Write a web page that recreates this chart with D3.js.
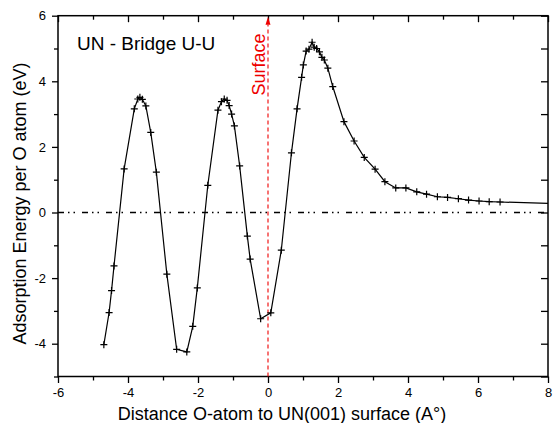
<!DOCTYPE html>
<html>
<head>
<meta charset="utf-8">
<script src="https://cdn.jsdelivr.net/npm/d3@7"></script>
<style>
  html, body { margin: 0; padding: 0; background: #fff; }
  svg { display: block; font-family: "Liberation Sans", Arial, sans-serif; }
</style>
</head>
<body>
<svg id="chart" width="553" height="423"></svg>
<script>
// Adsorption energy profile of an O atom crossing the UN(001) surface (bridge U-U site)
const distance = [
  -4.69, -4.54, -4.47, -4.40, -4.11, -3.82, -3.72, -3.66, -3.59, -3.49,
  -3.35, -3.19, -2.89, -2.61, -2.32, -2.15, -2.02, -1.72, -1.43, -1.33,
  -1.25, -1.17, -1.11, -1.04, -0.96, -0.81, -0.59, -0.51, -0.21, 0.08,
  0.38, 0.67, 0.83, 0.96, 1.01, 1.09, 1.17, 1.26, 1.32, 1.39,
  1.47, 1.54, 1.61, 1.71, 1.85, 2.17, 2.46, 2.75, 3.06, 3.34,
  3.65, 3.94, 4.25, 4.53, 4.84, 5.13, 5.44, 5.73, 6.03, 6.32, 6.63
];
const energy = [
  -4.03, -3.05, -2.38, -1.63, 1.33, 3.16, 3.46, 3.51, 3.45, 3.25,
  2.44, 1.23, -1.88, -4.17, -4.25, -3.47, -2.30, 0.83, 3.12, 3.38,
  3.46, 3.42, 3.26, 3.00, 2.64, 1.42, -0.72, -1.42, -3.24, -3.06,
  -1.15, 1.82, 3.16, 4.12, 4.50, 4.92, 4.98, 5.19, 5.04, 5.00,
  4.90, 4.73, 4.65, 4.40, 3.84, 2.77, 2.18, 1.68, 1.32, 0.94,
  0.75, 0.75, 0.63, 0.56, 0.48, 0.46, 0.42, 0.38, 0.35, 0.33, 0.32
];
// unmarked continuation of the curve to the right edge
const tailDistance = [6.63, 8.0];
const tailEnergy = [0.32, 0.28];

const xMajorTicks = [-6, -4, -2, 0, 2, 4, 6, 8];
const xMinorTicks = [-5, -3, -1, 1, 3, 5, 7];
const yMajorTicks = [-4, -2, 0, 2, 4, 6];
const yMinorTicks = [-5, -3, -1, 1, 3, 5];

const titleText = "UN - Bridge U-U";
const surfaceText = "Surface";
const xLabel = "Distance O-atom to UN(001) surface (A°)";
const yLabel = "Adsorption Energy per O atom (eV)";

const svg = d3.select("#chart");
const plotLeft = 58, plotRight = 548, plotTop = 15.7, plotBottom = 376.5;

const x = d3.scaleLinear().domain([-6, 8]).range([plotLeft, plotRight]);
const y = d3.scaleLinear().domain([-5, 6]).range([plotBottom, plotTop]);

const fmt = d => String(d);

function drawAxis(gen, transform, size, values, labels) {
  const g = svg.append("g").attr("transform", transform)
    .call(gen.tickValues(values).tickSizeInner(size).tickSizeOuter(0)
      .tickPadding(labels ? 4 : 0).tickFormat(labels ? fmt : () => ""));
  g.select(".domain").remove();
  g.selectAll(".tick line").attr("stroke", "#000").attr("stroke-width", 1.3);
  g.selectAll(".tick text").attr("fill", "#000").style("font-size", "13px")
    .style("font-family", "'Liberation Sans', Arial, sans-serif");
  return g;
}

// bottom axis: outward ticks with labels
drawAxis(d3.axisBottom(x), `translate(0,${plotBottom})`, 6.5, xMajorTicks, true)
  .selectAll(".tick text").attr("dy", "0.71em").attr("y", 11);
drawAxis(d3.axisBottom(x), `translate(0,${plotBottom})`, 4, xMinorTicks, false);
// top axis: inward ticks
drawAxis(d3.axisTop(x), `translate(0,${plotTop})`, -6.5, xMajorTicks, false);
drawAxis(d3.axisTop(x), `translate(0,${plotTop})`, -4, xMinorTicks, false);
// left axis: outward ticks with labels
drawAxis(d3.axisLeft(y), `translate(${plotLeft},0)`, 6, yMajorTicks, true)
  .selectAll(".tick text").attr("x", -12);
drawAxis(d3.axisLeft(y), `translate(${plotLeft},0)`, 4, yMinorTicks, false);
// right axis: inward ticks
drawAxis(d3.axisRight(y), `translate(${plotRight},0)`, -7, yMajorTicks, false);
drawAxis(d3.axisRight(y), `translate(${plotRight},0)`, -7, yMinorTicks, false);

// frame
svg.append("rect")
  .attr("x", plotLeft).attr("y", plotTop)
  .attr("width", plotRight - plotLeft).attr("height", plotBottom - plotTop)
  .attr("fill", "none").attr("stroke", "#000").attr("stroke-width", 1.5);

// zero-energy reference line (dash-dot-dot)
svg.append("line")
  .attr("x1", x(-6)).attr("x2", x(8))
  .attr("y1", y(0)).attr("y2", y(0))
  .attr("stroke", "#000").attr("stroke-width", 1.5)
  .attr("stroke-dasharray", "6,4,1.5,4,1.5,7");

// surface position marker with arrow head
svg.append("line")
  .attr("x1", x(0)).attr("x2", x(0))
  .attr("y1", y(-5)).attr("y2", y(6) + 9)
  .attr("stroke", "#e00").attr("stroke-width", 1.1)
  .attr("stroke-dasharray", "4,3");
svg.append("path")
  .attr("d", `M${x(0) - 2.5},${y(6) + 9} L${x(0)},${y(6) + 1} L${x(0) + 2.5},${y(6) + 9} Z`)
  .attr("fill", "#e00");

svg.append("text")
  .attr("transform", `translate(${x(0) - 3.5},64.5) rotate(-90)`)
  .attr("text-anchor", "middle")
  .attr("fill", "#e00").style("font-size", "18px")
  .text(surfaceText);

// energy curve
const line = d3.line().x(d => x(d[0])).y(d => y(d[1]));
const pts = distance.map((d, i) => [d, energy[i]]);
const tail = tailDistance.map((d, i) => [d, tailEnergy[i]]);

svg.append("path").datum(pts.concat(tail.slice(1)))
  .attr("d", line).attr("fill", "none")
  .attr("stroke", "#000").attr("stroke-width", 1.2);

// "+" markers
const s = 3.5;
svg.append("g").selectAll("path").data(pts).join("path")
  .attr("d", d => `M${x(d[0]) - s},${y(d[1])}H${x(d[0]) + s}M${x(d[0])},${y(d[1]) - s}V${y(d[1]) + s}`)
  .attr("stroke", "#000").attr("stroke-width", 1.2).attr("fill", "none");

// title
svg.append("text").attr("x", 77).attr("y", 50)
  .attr("fill", "#000").style("font-size", "19px")
  .text(titleText);

// axis titles
svg.append("text")
  .attr("x", 282).attr("y", 420)
  .attr("text-anchor", "middle").attr("fill", "#000")
  .style("font-size", "18px")
  .text(xLabel);

svg.append("text")
  .attr("transform", `translate(25.5,203.5) rotate(-90)`)
  .attr("text-anchor", "middle").attr("fill", "#000")
  .style("font-size", "18px")
  .text(yLabel);
</script>
</body>
</html>
